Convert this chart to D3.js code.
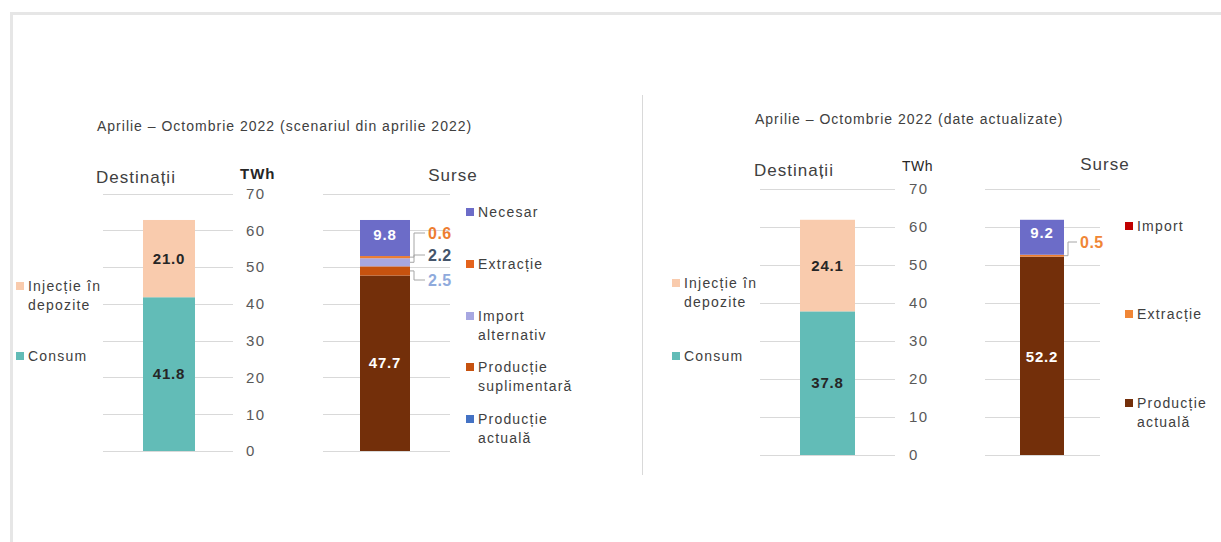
<!DOCTYPE html>
<html>
<head>
<meta charset="utf-8">
<script src="https://cdn.jsdelivr.net/npm/d3@7"></script>
<style>
  body { margin: 0; background: #fff; }
  svg { display: block; font-family: "Liberation Sans", Arial, sans-serif; }
</style>
</head>
<body>
<svg id="chart" width="1221" height="542"></svg>
<script>
// Values (TWh)
var ticks = [0, 10, 20, 30, 40, 50, 60, 70];
var categories = ["Destinații", "Surse"];

// Left panel: scenario from April 2022
var destNamesA = ["Consum", "Injecție în depozite"];
var destValuesA = [41.8, 21.0];
var srcNamesA = ["Producție actuală", "Producție suplimentară", "Import alternativ", "Extracție", "Necesar"];
var srcValuesA = [47.7, 2.5, 2.2, 0.6, 9.8];

// Right panel: updated data
var destNamesB = ["Consum", "Injecție în depozite"];
var destValuesB = [37.8, 24.1];
var srcNamesB = ["Producție actuală", "Extracție", "Necesar"];
var srcValuesB = [52.2, 0.5, 9.2];

// Legend labels
var legendDest = [["Injecție în", "depozite"], ["Consum"]];
var legendSrcA = [["Necesar"], ["Extracție"], ["Import", "alternativ"], ["Producție", "suplimentară"], ["Producție", "actuală"]];
var legendSrcB = [["Import"], ["Extracție"], ["Producție", "actuală"]];

var colors = {
  "Consum": "#62bcb7",
  "Injecție în depozite": "#f9cbad",
  "Producție actuală": "#732f0a",
  "Producție suplimentară": "#c6520f",
  "Import alternativ": "#a7a7e1",
  "Extracție": "#ed7d31",
  "Necesar": "#6c6cc8"
};

var svg = d3.select("#chart");

// frame
svg.append("rect").attr("x", 11.5).attr("y", 13.5).attr("width", 1240).attr("height", 560)
  .attr("fill", "none").attr("stroke", "#e6e6e6").attr("stroke-width", 3);

// divider between the two panels
svg.append("line").attr("x1", 642.5).attr("x2", 642.5).attr("y1", 95).attr("y2", 475)
  .attr("stroke", "#d9d9d9").attr("stroke-width", 1);

function stack(values) {
  var acc = 0;
  return values.map(function(v) { var s = { y0: acc, y1: acc + v, v: v }; acc += v; return s; });
}

function drawPanel(p) {
  var g = svg.append("g");
  var y = d3.scaleLinear().domain([0, 70]).range([p.y0, p.y70]);

  g.append("text").attr("x", p.titleX).attr("y", p.titleY).attr("font-size", 14)
    .attr("letter-spacing", 1).attr("fill", "#404040").text(p.title);

  // gridlines
  [p.destGrid, p.srcGrid].forEach(function(gr) {
    g.selectAll(null).data(ticks).enter().append("line")
      .attr("x1", gr[0]).attr("x2", gr[1])
      .attr("y1", function(d) { return Math.round(y(d)) + 0.5; })
      .attr("y2", function(d) { return Math.round(y(d)) + 0.5; })
      .attr("stroke", "#d9d9d9").attr("stroke-width", 1);
  });

  // tick labels through a d3 axis
  var axis = d3.axisRight(y).tickValues(ticks).tickSize(0).tickPadding(0).tickFormat(d3.format("d"));
  var ax = g.append("g").attr("transform", "translate(" + p.tickX + ",0)").call(axis);
  ax.select(".domain").remove();
  ax.selectAll("text").attr("font-size", 15).attr("letter-spacing", 1.5).attr("fill", "#595959")
    .attr("font-family", "Liberation Sans, Arial, sans-serif");

  g.append("text").attr("x", p.twhX).attr("y", p.twhY)
    .attr("font-size", p.twhBold ? 15 : 14).attr("letter-spacing", p.twhBold ? 1 : 0.5)
    .attr("font-weight", p.twhBold ? "bold" : "normal").attr("fill", "#262626").text("TWh");

  // panel headings
  g.append("text").attr("x", p.destHeadX).attr("y", p.destHeadY).attr("font-size", 17)
    .attr("letter-spacing", 1).attr("fill", "#404040").text(categories[0]);
  g.append("text").attr("x", p.srcHeadX).attr("y", p.srcHeadY).attr("font-size", 17)
    .attr("letter-spacing", 1).attr("fill", "#404040").attr("text-anchor", "middle").text(categories[1]);

  // destination bar
  var dst = stack(p.destValues);
  g.selectAll(null).data(dst).enter().append("rect")
    .attr("x", p.destBar[0]).attr("width", p.destBar[1] - p.destBar[0])
    .attr("y", function(d) { return y(d.y1); })
    .attr("height", function(d) { return y(d.y0) - y(d.y1); })
    .attr("fill", function(d, i) { return colors[p.destNames[i]]; });
  g.selectAll(null).data(dst).enter().append("text")
    .attr("x", (p.destBar[0] + p.destBar[1]) / 2)
    .attr("y", function(d) { return y((d.y0 + d.y1) / 2) + 5; })
    .attr("text-anchor", "middle").attr("font-size", 15).attr("letter-spacing", 0.8)
    .attr("font-weight", "bold").attr("fill", "#262626")
    .text(function(d) { return d.v.toFixed(1); });

  // source bar
  var src = stack(p.srcValues);
  g.selectAll(null).data(src).enter().append("rect")
    .attr("x", p.srcBar[0]).attr("width", p.srcBar[1] - p.srcBar[0])
    .attr("y", function(d) { return y(d.y1); })
    .attr("height", function(d) { return y(d.y0) - y(d.y1); })
    .attr("fill", function(d, i) { return colors[p.srcNames[i]]; });

  // inside labels (large segments) and callouts (small segments)
  src.forEach(function(d, i) {
    var cy = y((d.y0 + d.y1) / 2);
    if (d.v > 5) {
      g.append("text").attr("x", (p.srcBar[0] + p.srcBar[1]) / 2).attr("y", cy + (p.insideShift[i] || 5))
        .attr("text-anchor", "middle").attr("font-size", 15).attr("letter-spacing", 0.8)
        .attr("font-weight", "bold").attr("fill", "#fff")
        .text(d.v.toFixed(1));
    } else {
      var c = p.callouts[p.srcNames[i]];
      var bx = p.srcBar[1];
      g.append("path")
        .attr("d", "M" + bx + "," + cy + "L" + (bx + 4) + "," + cy + "L" + (bx + 4) + "," + c.y + "L" + (c.x - 3) + "," + c.y)
        .attr("fill", "none").attr("stroke", "#a6a6a6").attr("stroke-width", 1);
      g.append("text").attr("x", c.x).attr("y", c.y + 6).attr("font-size", 16).attr("font-weight", "bold")
        .attr("letter-spacing", 0.5).attr("fill", c.color).text(d.v.toFixed(1));
    }
  });

  // legends
  function legend(items, cols, x, ys) {
    items.forEach(function(lines, i) {
      g.append("rect").attr("x", x).attr("y", ys[i] - 4).attr("width", 8).attr("height", 8).attr("fill", cols[i]);
      lines.forEach(function(t, j) {
        g.append("text").attr("x", x + 12).attr("y", ys[i] + 5 + j * 19).attr("font-size", 14)
          .attr("letter-spacing", 1.2).attr("fill", "#404040").text(t);
      });
    });
  }
  legend(legendDest, [colors["Injecție în depozite"], colors["Consum"]], p.destLegX, p.destLegY);
  legend(p.srcLegend, p.srcLegColors, p.srcLegX, p.srcLegY);
}

drawPanel({
  title: "Aprilie – Octombrie 2022 (scenariul din aprilie 2022)", titleX: 97, titleY: 131,
  y0: 451, y70: 193.5,
  destGrid: [103, 233], srcGrid: [323, 450], tickX: 246,
  twhX: 240, twhY: 179, twhBold: true,
  destHeadX: 96, destHeadY: 183, srcHeadX: 453, srcHeadY: 181,
  destBar: [143, 195], srcBar: [360, 410],
  destNames: destNamesA, destValues: destValuesA,
  srcNames: srcNamesA, srcValues: srcValuesA,
  insideShift: [5, 0, 0, 0, 2],
  callouts: {
    "Extracție": { x: 428, y: 233, color: "#ed7d31" },
    "Import alternativ": { x: 428, y: 255, color: "#44546a" },
    "Producție suplimentară": { x: 428, y: 280, color: "#8faadc" }
  },
  destLegX: 16, destLegY: [286, 356],
  srcLegend: legendSrcA,
  srcLegColors: ["#6c6cc8", "#e4631c", "#a7a7e1", "#c6520f", "#4472c4"],
  srcLegX: 466, srcLegY: [212, 264, 316, 367, 419]
});

drawPanel({
  title: "Aprilie – Octombrie 2022 (date actualizate)", titleX: 755, titleY: 124,
  y0: 455, y70: 189,
  destGrid: [760, 895], srcGrid: [985, 1100], tickX: 909,
  twhX: 902, twhY: 171, twhBold: false,
  destHeadX: 754, destHeadY: 176, srcHeadX: 1105, srcHeadY: 170,
  destBar: [800, 855], srcBar: [1020, 1064],
  destNames: destNamesB, destValues: destValuesB,
  srcNames: srcNamesB, srcValues: srcValuesB,
  insideShift: [6, 0, 1],
  callouts: {
    "Extracție": { x: 1080, y: 242, color: "#f08636" }
  },
  destLegX: 672, destLegY: [283, 356],
  srcLegend: legendSrcB,
  srcLegColors: ["#c00000", "#f08636", "#732f0a"],
  srcLegX: 1125, srcLegY: [226, 314, 403]
});
</script>
</body>
</html>
